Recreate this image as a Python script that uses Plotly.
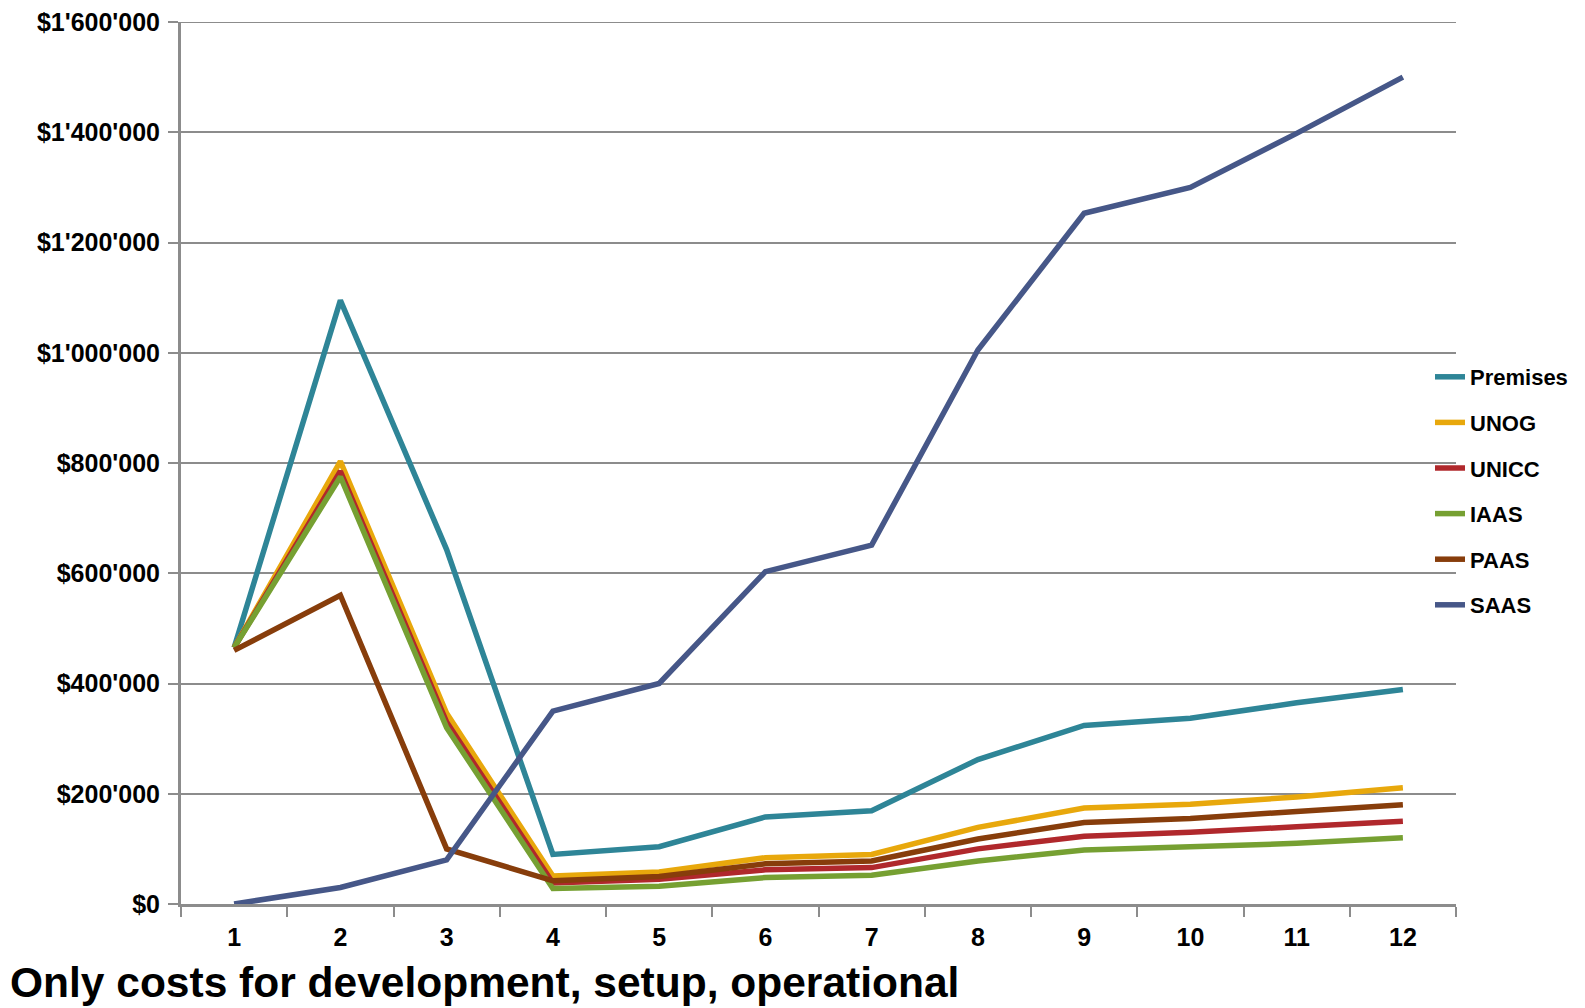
import plotly.graph_objects as go

categories = ["1", "2", "3", "4", "5", "6", "7", "8", "9", "10", "11", "12"]

premises = [465000, 1095000, 643000, 90000, 104000, 158000, 169000, 262000, 324000, 337000, 365000, 389000]
unog = [465000, 803000, 346000, 51000, 58000, 84000, 90000, 139000, 174000, 181000, 194000, 211000]
unicc = [465000, 785000, 330000, 38000, 45000, 62000, 66000, 100000, 123000, 130000, 140000, 150000]
iaas = [465000, 775000, 320000, 28000, 32000, 48000, 52000, 78000, 98000, 103000, 110000, 120000]
paas = [460000, 560000, 100000, 42000, 50000, 73000, 78000, 118000, 148000, 155000, 168000, 180000]
saas = [0, 30000, 80000, 350000, 400000, 603000, 651000, 1005000, 1253000, 1300000, 1398000, 1500000]

series_names = ["Premises", "UNOG", "UNICC", "IAAS", "PAAS", "SAAS"]
series_values = [premises, unog, unicc, iaas, paas, saas]
series_colors = ["#2E8597", "#E8A80C", "#B0282C", "#76A032", "#873D0B", "#465788"]

y_max = 1600000
y_tickvals = [0, 200000, 400000, 600000, 800000, 1000000, 1200000, 1400000, 1600000]
y_ticktext = ["$0", "$200'000", "$400'000", "$600'000", "$800'000",
              "$1'000'000", "$1'200'000", "$1'400'000", "$1'600'000"]

caption = "Only costs for development, setup, operational"

label_font = dict(family="Liberation Sans, Arial", size=25, color="black", weight="bold")
grid_color = "#8C8C8C"

fig = go.Figure()
for name, vals, col in zip(series_names, series_values, series_colors):
    fig.add_trace(go.Scatter(
        x=categories, y=vals, name=name, mode="lines",
        line=dict(color=col, width=5.5), legendgroup=name,
    ))

# page body has an 8px margin, so the figure starts at (8, 8) in the window
OFF = 8
W, H = 1585 - OFF, 1008 - OFF
ml, mt = 181 - OFF, 22 - OFF
mr = W - (1456 - OFF)
mb = H - (904 - OFF)
plot_h = H - mt - mb
plot_w = W - ml - mr

def py(win_y):
    return (904 - win_y) / plot_h

def px(win_x):
    return (win_x - 181) / plot_w

fig.update_layout(
    width=W, height=H,
    margin=dict(l=ml, r=mr, t=mt, b=mb, autoexpand=False),
    paper_bgcolor="white", plot_bgcolor="white",
    showlegend=True,
    legend=dict(
        x=px(1430), xanchor="left",
        y=py(356), yanchor="top",
        font=dict(family="Liberation Sans, Arial", size=22, color="black", weight="bold"),
        tracegroupgap=14,
        bgcolor="rgba(0,0,0,0)",
        itemwidth=30,
    ),
    xaxis=dict(
        type="category", range=[-0.5, 11.5], automargin=False,
        showgrid=False, zeroline=False,
        showline=True, linecolor=grid_color, linewidth=3,
        ticks="outside", tickson="boundaries", ticklen=10, tickwidth=2, tickcolor=grid_color,
        tickfont=label_font, ticklabelstandoff=9,
    ),
    yaxis=dict(
        range=[0, y_max], automargin=False,
        tickmode="array", tickvals=y_tickvals, ticktext=y_ticktext,
        ticklabeloverflow="allow",
        showgrid=True, gridcolor=grid_color, gridwidth=2,
        zeroline=False,
        showline=True, linecolor=grid_color, linewidth=3,
        ticks="outside", ticklen=10, tickwidth=2, tickcolor=grid_color,
        tickfont=label_font, ticklabelstandoff=3,
    ),
    shapes=[dict(
        type="line", xref="paper", yref="y", x0=0, x1=1, y0=y_max, y1=y_max,
        line=dict(color=grid_color, width=2), layer="below",
    )],
    annotations=[dict(
        text=caption, xref="paper", yref="paper",
        x=px(OFF), xanchor="left",
        y=py(982), yanchor="middle",
        showarrow=False,
        font=dict(family="Liberation Sans, Arial", size=42.5, color="black", weight="bold"),
    )],
)

fig.write_html("out.html")
